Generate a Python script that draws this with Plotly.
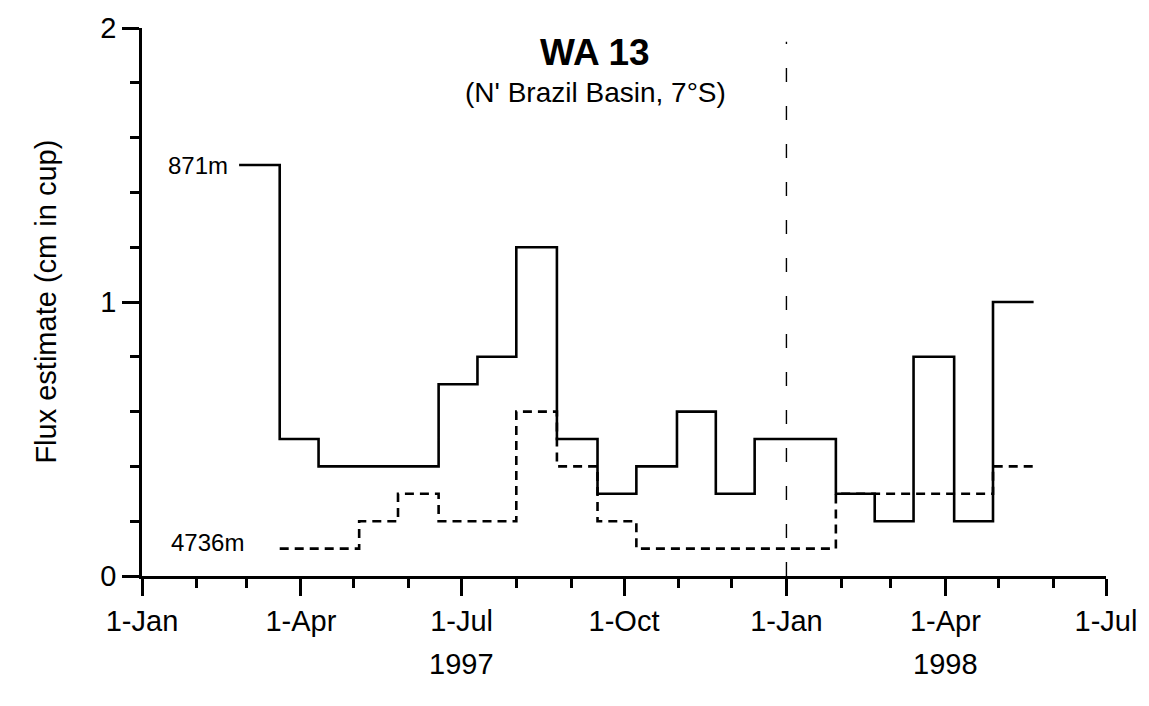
import plotly.graph_objects as go

# ---- data ----
# 871 m trap: period boundaries and flux values (step per period)
shallow_edges = ["1997-02-25", "1997-03-20", "1997-04-11", "1997-06-18", "1997-07-10",
                 "1997-08-01", "1997-08-24", "1997-09-16", "1997-10-08", "1997-10-31",
                 "1997-11-22", "1997-12-14", "1998-01-29", "1998-02-20", "1998-03-14",
                 "1998-04-06", "1998-04-28", "1998-05-21"]
shallow_flux = [1.5, 0.5, 0.4, 0.7, 0.8, 1.2, 0.5, 0.3, 0.4, 0.6, 0.3, 0.5, 0.3, 0.2, 0.8, 0.2, 1.0]

# 4736 m trap
deep_edges = ["1997-03-20", "1997-05-04", "1997-05-26", "1997-06-18", "1997-08-01",
              "1997-08-24", "1997-09-16", "1997-10-08", "1998-01-29", "1998-04-28",
              "1998-05-21"]
deep_flux = [0.1, 0.2, 0.3, 0.2, 0.6, 0.4, 0.2, 0.1, 0.3, 0.4]

tick_dates = ["1997-01-01", "1997-04-01", "1997-07-01", "1997-10-01",
              "1998-01-01", "1998-04-01", "1998-07-01"]
tick_text = ["1-Jan", "1-Apr", "1-Jul", "1-Oct", "1-Jan", "1-Apr", "1-Jul"]
year_labels = ["1997", "1998"]
year_label_dates = ["1997-07-01", "1998-04-01"]
year_break = "1998-01-01"

FONT = "Liberation Sans, Arial, sans-serif"

fig = go.Figure()
fig.add_trace(go.Scatter(
    x=shallow_edges, y=shallow_flux + [shallow_flux[-1]],
    mode="lines", line=dict(shape="hv", color="black", width=2.6),
    showlegend=False, hoverinfo="skip"))
fig.add_trace(go.Scatter(
    x=deep_edges, y=deep_flux + [deep_flux[-1]],
    mode="lines", line=dict(shape="hv", color="black", width=2.6, dash="9px,6px"),
    showlegend=False, hoverinfo="skip"))

# vertical year-break line
fig.add_shape(type="line", xref="x", yref="y", x0=year_break, x1=year_break,
              y0=0, y1=1.95, line=dict(color="black", width=1.4, dash="14px,24px"))

ann = []
ann.append(dict(x=shallow_edges[0], y=shallow_flux[0], xref="x", yref="y",
                text="871m", showarrow=False, xanchor="right", yanchor="middle",
                xshift=-9, font=dict(size=24, color="black", family=FONT)))
ann.append(dict(x=deep_edges[0], y=deep_flux[0], xref="x", yref="y",
                text="4736m", showarrow=False, xanchor="right", yanchor="middle",
                xshift=-34, yshift=6, font=dict(size=24, color="black", family=FONT)))
for lab, d in zip(year_labels, year_label_dates):
    ann.append(dict(x=d, y=-0.16, xref="paper" if False else "x", yref="paper", text=lab,
                    showarrow=False, xanchor="center", yanchor="middle",
                    font=dict(size=29, color="black", family=FONT)))
ann.append(dict(x=0.47, y=0.955, xref="paper", yref="paper", text="<b>WA 13</b>",
                showarrow=False, xanchor="center", yanchor="middle",
                font=dict(size=37, color="black", family=FONT)))
ann.append(dict(x=0.47, y=0.883, xref="paper", yref="paper",
                text="(N' Brazil Basin, 7°S)",
                showarrow=False, xanchor="center", yanchor="middle",
                font=dict(size=28, color="black", family=FONT)))
ann.append(dict(x=-0.1, y=0.5, xref="paper", yref="paper",
                text="Flux estimate (cm in cup)", textangle=-90,
                showarrow=False, xanchor="center", yanchor="middle",
                font=dict(size=29, color="black", family=FONT)))

fig.update_layout(
    width=1149, height=706,
    margin=dict(l=142, r=42, t=24, b=130),
    paper_bgcolor="white", plot_bgcolor="white",
    font=dict(family=FONT, color="black"),
    annotations=ann,
    xaxis=dict(type="date", range=["1997-01-01", "1998-07-01"],
               tickvals=tick_dates, ticktext=tick_text,
               ticks="outside", ticklen=17, tickwidth=2.6, tickcolor="black",
               showline=True, linewidth=2.6, linecolor="black",
               showgrid=False, zeroline=False,
               tickfont=dict(size=29, color="black", family=FONT),
               minor=dict(dtick="M1", ticks="outside", ticklen=9, tickwidth=2.6,
                          tickcolor="black", showgrid=False)),
    yaxis=dict(range=[0, 2], tickvals=[0, 1, 2], ticktext=["0", "1", "2"],
               ticks="outside", ticklen=17, tickwidth=2.6, tickcolor="black",
               showline=True, linewidth=2.6, linecolor="black",
               showgrid=False, zeroline=False,
               tickfont=dict(size=29, color="black", family=FONT),
               minor=dict(dtick=0.2, tick0=0, ticks="outside", ticklen=9, tickwidth=2.6,
                          tickcolor="black", showgrid=False)),
)

fig.write_html("out.html")
